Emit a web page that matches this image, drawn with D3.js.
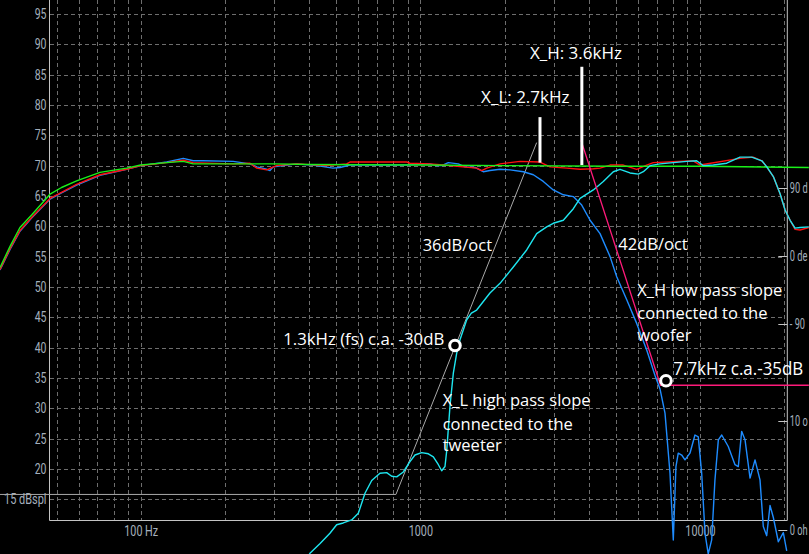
<!DOCTYPE html>
<html><head><meta charset="utf-8">
<script src="https://cdn.jsdelivr.net/npm/d3@7"></script>
<style>
html,body{margin:0;padding:0;background:#000;overflow:hidden}
svg{display:block;background:#000}
</style></head><body>
<svg id="c" width="809" height="554"></svg>
<script>
// ---------- data ----------
const yTicks = [15,20,25,30,35,40,45,50,55,60,65,70,75,80,85,90,95];
const yTickUnit = " dBspl";
const xTicks = [100,1000,10000];
const xTickLabels = ["100 Hz","1000","10000"];
const xGrid = [50,60,70,80,90,100,200,300,400,500,600,700,800,900,1000,2000,3000,4000,5000,6000,7000,8000,9000,10000,20000];
const phaseTicks = [90,0,-90];
const phaseLabels = ["90 d","0 de","- 90"];   // visible part of the (window-clipped) labels
const ohmTicks = [10,0];
const ohmLabels = ["10 o","0 oh"];

// green: summed target response
const greenCurve = [[31.4,53.2],[34.1,56.7],[37,59.8],[40.8,61.9],[47.4,65.3],[52.1,66.4],[59,67.5],[71.5,68.9],[89,69.6],[100,70.1],[124,70.5],[142,70.7],[154,70.3],[214,70.3],[300,70.3],[400,70.2],[1000,70.1],[2000,70.0],[5000,69.9],[10000,69.9],[24500,69.7]];
// red: summed measured response
const redCurve = [[31.4,52.9],[34.1,56.3],[37,59.3],[40.8,61.5],[47.4,64.6],[52.1,65.6],[59,66.9],[71.5,68.5],[89,69.4],[100,70.0],[124,70.5],[142,70.9],[154,70.5],[214,70.3],[246,70.4],[260,69.6],[282,69.3],[306,70.0],[361,70.3],[462,70.0],[545,70.3],[560,70.6],[894,70.6],[918,70.4],[1083,70.3],[1208,70.1],[1590,69.6],[1657,69.2],[1727,69.6],[1927,70.3],[2273,70.7],[2678,70.6],[2908,69.8],[3337,69.6],[3724,69.4],[4155,69.5],[4391,69.6],[4769,70.1],[5318,70.1],[5937,69.4],[6448,70.1],[6808,70.5],[9462,70.8],[10000,70.1],[13900,71.2],[15500,71.4],[16640,70.8],[17330,69.8],[18290,68.2],[19320,65.4],[20150,62.7],[21000,61.0],[21880,59.5],[22790,59.4],[24500,59.8]];
// blue: woofer
const blueCurve = [[31.4,52.8],[34.1,56.2],[37,59.2],[40.8,61.4],[47.4,64.5],[52.1,65.5],[59,66.8],[71.5,68.4],[89,69.4],[100,70.0],[124,70.6],[142,71.2],[154,70.8],[167,70.8],[214,70.7],[246,70.3],[260,69.8],[282,69.4],[290,69.2],[298,69.8],[361,70.3],[426,70.0],[487,69.6],[516,69.7],[560,70.1],[894,70.1],[1083,70.3],[1144,70.0],[1192,70.0],[1259,70.5],[1367,70.3],[1444,69.8],[1568,69.7],[1679,69.0],[1774,69.2],[1927,69.4],[2093,69.3],[2336,69.0],[2535,68.5],[2752,67.4],[2988,66.0],[3245,65.2],[3524,64.9],[3776,63.5],[4045,61.0],[4391,58.8],[4769,55.0],[5037,51.7],[5470,47.9],[5937,44.0],[6448,39.6],[6905,35.4],[7194,33.2],[7496,29.2],[7811,19.3],[8026,8.3],[8204,20.4],[8360,22.6],[8600,22.3],[8838,21.5],[9206,22.6],[9594,25.6],[9858,25.3],[10140,19.3],[10420,9.4],[10700,6.0],[11010,8.3],[11310,18.2],[11630,24.8],[11960,25.6],[12620,23.7],[13340,20.7],[13710,20.4],[14090,26.2],[14490,24.8],[15100,18.5],[15730,21.5],[16390,18.2],[16840,10.5],[17320,9.0],[17800,14.0],[18290,12.0],[19060,8.0],[19860,9.5],[20420,6.5]];
// cyan: tweeter
const cyanCurve = [[390,5.0],[403,6.1],[438,7.7],[475,9.4],[502,10.8],[530,11.1],[568,11.6],[600,12.7],[634,16.0],[670,18.1],[717,19.3],[758,19.4],[790,18.8],[823,18.7],[869,19.5],[918,21.2],[957,22.3],[1011,22.7],[1068,22.5],[1113,22.0],[1160,20.7],[1192,19.7],[1225,20.4],[1243,23.1],[1276,30.3],[1312,35.8],[1349,39.1],[1386,41.3],[1465,44.6],[1522,45.7],[1590,46.2],[1774,49.0],[1927,50.6],[2150,53.3],[2400,56.1],[2606,58.8],[2830,59.9],[2988,60.5],[3245,61.0],[3524,62.9],[3724,64.6],[4155,66.0],[4510,67.4],[4898,69.0],[5176,69.4],[5619,68.8],[6018,68.6],[6271,69.0],[6626,70.0],[7194,70.3],[8964,70.7],[9727,70.8],[10270,70.0],[11160,70.1],[12460,70.4],[13900,71.4],[15310,71.4],[16640,70.8],[17330,69.8],[18290,68.2],[19320,65.4],[20150,62.7],[21000,61.0],[21880,59.7],[22790,59.8],[24500,59.9]];
// reference slopes
const slope36 = [[31.4,15.8],[818,15.8],[2606,73.8]];
const slope42 = [[3754,74.2],[7224,33.8],[24500,33.8]];
// crossover markers
const markerFreqs = [2678,3780];
const markerTop = [78.0,86.3];
const markerBottom = [70.5,70.1];
const markerLabels = ["X_L: 2.7kHz","X_H: 3.6kHz"];
const markerLabelFreqs = [2373,3600];
const markerLabelDb = [80.3,87.6];
// circled points
const pointFreqs = [1330,7557];
const pointDb = [40.35,34.55];

// ---------- scales ----------
const svg = d3.select("#c");
const x = d3.scaleLog().domain([100,10000]).range([140.7,700]);
const y = d3.scaleLinear().domain([15,95]).range([499.3,14]);
const yPhase = d3.scaleLinear().domain([-90,90]).range([324.3,188.3]);
const yOhm = d3.scaleLinear().domain([0,10]).range([530,420.7]);
const X0 = 50, X1 = 787.3, YB = 520;
const font = "'Open Sans', 'Noto Sans', sans-serif";
const tickFont = "Roboto, 'Noto Sans', sans-serif";
const tickColor = "#a5b0bd";

// narrow the tick labels (reference uses a condensed UI face)
function narrow(sel, k){
  sel.each(function(){
    const w = this.getComputedTextLength();
    const target = this.textContent.indexOf("dBspl")>=0 ? 42.5 : w*k;
    d3.select(this).attr("textLength",target).attr("lengthAdjust","spacingAndGlyphs");
  });
}

// grid
const g = svg.append("g");
g.selectAll("line.hg").data(yTicks).join("line")
  .attr("x1",X0).attr("x2",x(20000)).attr("y1",d=>Math.round(y(d))+0.5).attr("y2",d=>Math.round(y(d))+0.5)
  .attr("stroke","#6e6e6e").attr("stroke-dasharray","4,3");
g.selectAll("line.vg").data(xGrid).join("line")
  .attr("x1",d=>Math.round(x(d))+0.5).attr("x2",d=>Math.round(x(d))+0.5).attr("y1",0).attr("y2",YB)
  .attr("stroke","#6e6e6e").attr("stroke-dasharray","4,3");

// axes
const yAxis = d3.axisLeft(y).tickValues(yTicks).tickSize(0).tickPadding(3)
  .tickFormat(d => d===15 ? d+yTickUnit : d);
const ya = svg.append("g").attr("transform",`translate(${X0-0.5},0)`).call(yAxis);
ya.select(".domain").remove();
ya.selectAll("text").attr("fill",tickColor).style("font-family",tickFont).style("font-size","14px").call(narrow,0.75);
const xAxis = d3.axisBottom(x).tickValues(xTicks).tickSize(0).tickPadding(6)
  .tickFormat((d,i)=>xTickLabels[i]);
const xa = svg.append("g").attr("transform",`translate(0,${YB})`).call(xAxis);
xa.select(".domain").remove();
xa.selectAll("text").attr("fill",tickColor).style("font-family",tickFont).style("font-size","14px").call(narrow,0.77);

svg.append("line").attr("x1",X0-0.5).attr("x2",X0-0.5).attr("y1",0).attr("y2",YB+0.5).attr("stroke","#c4c4c4");
svg.append("line").attr("x1",X0-0.5).attr("x2",X1).attr("y1",YB+0.5).attr("y2",YB+0.5).attr("stroke","#c4c4c4");
svg.append("line").attr("x1",X1).attr("x2",X1).attr("y1",0).attr("y2",YB+0.5).attr("stroke","#c4c4c4");

// right axis ticks
const rt = svg.append("g");
const rtData = phaseTicks.map((d,i)=>({y:yPhase(d),t:phaseLabels[i]}))
  .concat(ohmTicks.map((d,i)=>({y:yOhm(d),t:ohmLabels[i]})));
rt.selectAll("line").data(rtData).join("line")
  .attr("x1",X1-9).attr("x2",X1).attr("y1",d=>Math.round(d.y)+0.5).attr("y2",d=>Math.round(d.y)+0.5).attr("stroke","#c4c4c4");
rt.selectAll("text").data(rtData).join("text")
  .attr("x",X1+2.5).attr("y",d=>d.y).attr("dy","0.35em").text(d=>d.t)
  .attr("fill",tickColor).style("font-family",tickFont).style("font-size","14px").call(narrow,0.66);

// curves
const line = d3.line().x(d=>x(d[0])).y(d=>y(d[1]));
function curve(data,color,w){ svg.append("path").datum(data).attr("d",line).attr("fill","none").attr("stroke",color).attr("stroke-width",w).attr("stroke-linejoin","round"); }
curve(slope36,"#a8a8a8",1);
curve(blueCurve,"#1e8cff",1.4);
curve(redCurve,"#ff1010",1.4);
curve(greenCurve,"#19f019",1.4);
curve(cyanCurve,"#1ee6f0",1.4);
curve(slope42,"#ff1a7a",1.3);

// markers
svg.selectAll("line.mk").data(markerFreqs).join("line")
  .attr("x1",d=>x(d)).attr("x2",d=>x(d)).attr("y1",(d,i)=>y(markerTop[i])).attr("y2",(d,i)=>y(markerBottom[i]))
  .attr("stroke","#fff").attr("stroke-width",3);
svg.selectAll("text.mk").data(markerLabels).join("text")
  .attr("x",(d,i)=>x(markerLabelFreqs[i])).attr("y",(d,i)=>y(markerLabelDb[i])).attr("text-anchor","middle")
  .text(d=>d).attr("fill","#fff").style("font-family",font).style("font-size","17px");

// circled points
svg.selectAll("circle.pt").data(pointFreqs).join("circle")
  .attr("cx",d=>x(d)).attr("cy",(d,i)=>y(pointDb[i])).attr("r",5.3)
  .attr("fill","#000").attr("stroke","#fff").attr("stroke-width",3);

// notes
const notes = [
  {f:1019,db:56.0,t:"36dB/oct",a:"start",s:16.5},
  {f:5103,db:56.1,t:"42dB/oct",a:"start",s:16.5},
  {f:5969,db:48.5,t:"X_H low pass slope",a:"start",s:16.5},
  {f:5969,db:44.8,t:"connected to the",a:"start",s:16.5},
  {f:5969,db:41.1,t:"woofer",a:"start",s:16.5},
  {f:8026,db:35.5,t:"7.7kHz c.a.-35dB",a:"start",s:18,w:130},
  {f:1218,db:40.4,t:"1.3kHz (fs) c.a. -30dB",a:"end",s:16.8},
  {f:1202,db:30.3,t:"X_L high pass slope",a:"start",s:16.5},
  {f:1202,db:26.5,t:"connected to the",a:"start",s:16.5},
  {f:1202,db:23.0,t:"tweeter",a:"start",s:16.5}
];
svg.selectAll("text.note").data(notes).join("text")
  .attr("x",d=>x(d.f)).attr("y",d=>y(d.db)).attr("text-anchor",d=>d.a).text(d=>d.t)
  .attr("fill","#fff").style("font-family",font).style("font-size",d=>d.s+"px")
  .each(function(d){ if(d.w) d3.select(this).attr("textLength",d.w).attr("lengthAdjust","spacingAndGlyphs"); });
</script>
</body></html>
